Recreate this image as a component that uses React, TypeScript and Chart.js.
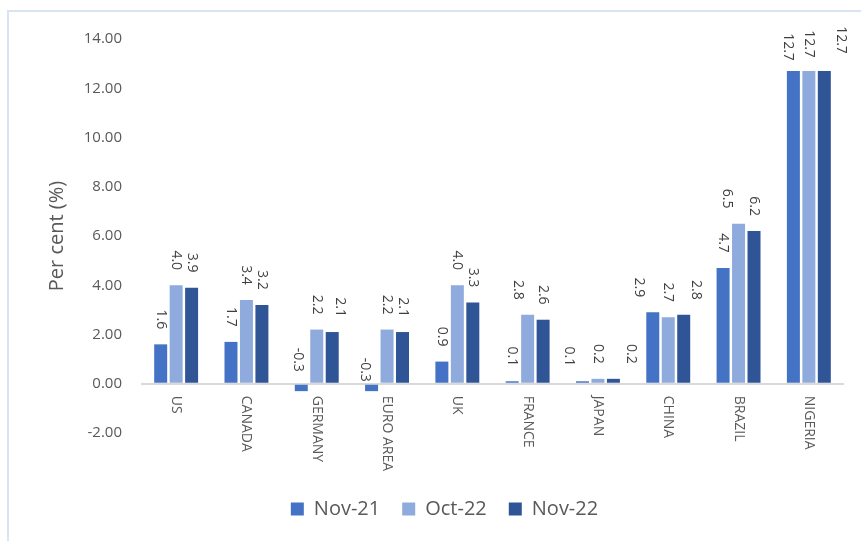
import React, { useEffect, useRef } from "react";
import { Chart, registerables } from "chart.js";

Chart.register(...registerables);

const categories = ["US", "CANADA", "GERMANY", "EURO AREA", "UK", "FRANCE", "JAPAN", "CHINA", "BRAZIL", "NIGERIA"];
const seriesNames = ["Nov-21", "Oct-22", "Nov-22"];
const nov21 = [1.6, 1.7, -0.3, -0.3, 0.9, 0.1, 0.1, 2.9, 4.7, 12.7];
const oct22 = [4.0, 3.4, 2.2, 2.2, 4.0, 2.8, 0.2, 2.7, 6.5, 12.7];
const nov22 = [3.9, 3.2, 2.1, 2.1, 3.3, 2.6, 0.2, 2.8, 6.2, 12.7];
const yMin = -2;
const yMax = 14;
const yStep = 2;

const colors = ["#4472c4", "#8faadc", "#2f5597"];
const FONT = "'Open Sans', 'Noto Sans', sans-serif";

// Excel-style overlap avoidance of the rotated value labels (label shifts, px: [dx, dy] per series)
const labelShift: Record<string, number[][]> = {
  GERMANY: [[-3, 0], [0, 0], [8, 0]],
  "EURO AREA": [[-7, 10], [0, 0], [0, 0]],
  FRANCE: [[0, 0], [-10, 0], [0, 0]],
  JAPAN: [[-13, 0], [0, 0], [18, 0]],
  CHINA: [[-14, 0], [0, 0], [12, 0]],
  BRAZIL: [[0, 0], [-12, 0], [0, 0]],
  NIGERIA: [[-5, 1], [0, -2], [17, -6]],
};

const labelsPlugin = {
  id: "rotatedLabels",
  afterDatasetsDraw(chart: any) {
    const ctx = chart.ctx;
    const xScale = chart.scales.x;
    const yScale = chart.scales.y;
    const zeroY = yScale.getPixelForValue(0);
    ctx.save();
    ctx.fillStyle = "#595959";
    ctx.font = `14px ${FONT}`;
    ctx.textAlign = "left";
    ctx.textBaseline = "middle";
    categories.forEach((c, i) => {
      const x = xScale.getPixelForValue(i);
      ctx.save();
      ctx.translate(x, zeroY + 12);
      ctx.rotate(Math.PI / 2);
      ctx.fillText(c, 0, 0);
      ctx.restore();
    });
    ctx.fillStyle = "#404040";
    ctx.font = `14px ${FONT}`;
    ctx.textAlign = "center";
    chart.data.datasets.forEach((ds: any, di: number) => {
      const meta = chart.getDatasetMeta(di);
      meta.data.forEach((bar: any, i: number) => {
        const v = ds.data[i];
        const top = Math.min(bar.y, bar.base);
        const sh = (labelShift[categories[i]] || [])[di] || [0, 0];
        ctx.save();
        ctx.translate(bar.x + sh[0], top - 25 + sh[1]);
        ctx.rotate(Math.PI / 2);
        ctx.fillText(v.toFixed(1), 0, 0);
        ctx.restore();
      });
    });
    ctx.restore();
  },
};

export default function App() {
  const ref = useRef<HTMLCanvasElement>(null);
  useEffect(() => {
    if (!ref.current) return;
    const chart = new Chart(ref.current, {
      type: "bar",
      data: {
        labels: categories,
        datasets: [nov21, oct22, nov22].map((d, i) => ({
          label: seriesNames[i],
          data: d,
          backgroundColor: colors[i],
          borderWidth: 0,
          categoryPercentage: 0.66,
          barPercentage: 0.84,
        })),
      },
      options: {
        responsive: false,
        animation: false,
        devicePixelRatio: 1,
        layout: { padding: { left: 45, right: 17, top: 39, bottom: 12 } },
        plugins: {
          tooltip: { enabled: false },
          legend: {
            position: "bottom",
            labels: {
              boxWidth: 13,
              boxHeight: 13,
              padding: 22,
              color: "#595959",
              font: { family: FONT, size: 20 },
            },
          },
        },
        scales: {
          x: {
            display: true,
            ticks: { display: false },
            grid: { display: false },
            border: { display: false },
            afterFit: (s: any) => {
              s.height = 44;
            },
          },
          y: {
            min: yMin,
            max: yMax,
            ticks: {
              stepSize: yStep,
              padding: 19,
              color: "#595959",
              font: { family: FONT, size: 15 },
              callback: (v: any) => Number(v).toFixed(2),
            },
            grid: {
              drawTicks: false,
              color: (c: any) => (c.tick && c.tick.value === 0 ? "#d9d9d9" : "rgba(0,0,0,0)"),
              lineWidth: 2,
            },
            border: { display: false },
            title: {
              display: true,
              text: "Per cent (%)",
              color: "#595959",
              font: { family: FONT, size: 20 },
              padding: { top: 0, bottom: 0 },
            },
            afterFit: (s: any) => {
              s.width = 96;
            },
          },
        },
      },
      plugins: [labelsPlugin],
    } as any);
    return () => chart.destroy();
  }, []);
  return (
    <div style={{ position: "absolute", left: 0, top: 0, width: 861, height: 541, background: "#fff", overflow: "hidden" }}>
      <div
        style={{
          position: "absolute",
          left: 7,
          top: 10,
          width: 900,
          height: 600,
          borderLeft: "2px solid #dae3f3",
          borderTop: "2px solid #dae3f3",
        }}
      />
      <canvas ref={ref} width={861} height={541} style={{ position: "absolute", left: 0, top: 0 }} />
    </div>
  );
}
